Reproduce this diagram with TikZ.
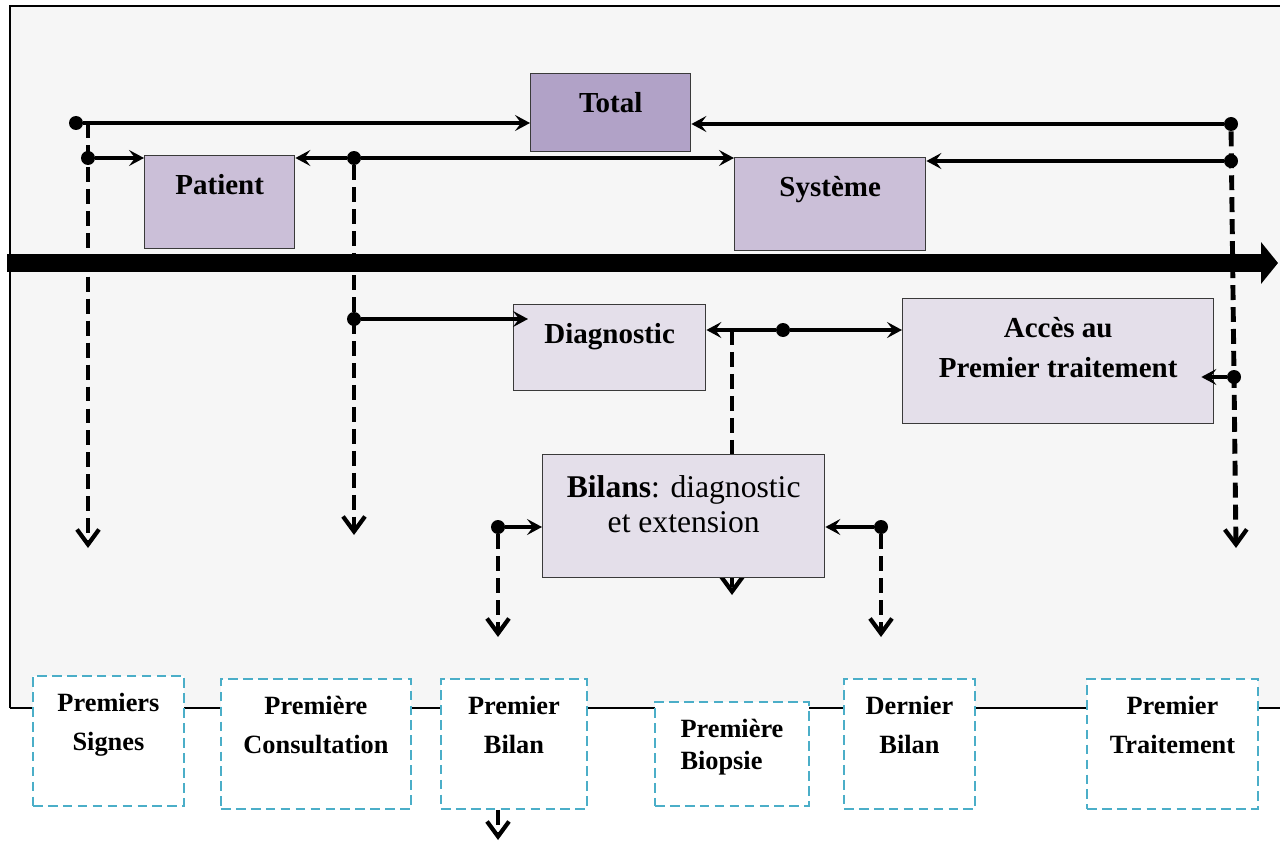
\documentclass[tikz,border=0pt]{standalone}
\usepackage{fontspec}
\setmainfont{Liberation Serif}
\usepackage{xcolor}
\usetikzlibrary{arrows.meta}
\definecolor{panel}{HTML}{F6F6F6}
\definecolor{lilacD}{HTML}{B1A2C7}
\definecolor{lilacM}{HTML}{CBBFD8}
\definecolor{lilacL}{HTML}{E4DFEA}
\definecolor{edge}{HTML}{3A3A3A}
\definecolor{milestone}{HTML}{4BAEC8}

\begin{document}
\begin{tikzpicture}[
    x=0.02cm, y=-0.02cm,
    phase/.style={rectangle, draw=edge, line width=0.8pt, anchor=north west, inner sep=0pt},
    total/.style={phase, fill=lilacD},
    actor/.style={phase, fill=lilacM},
    stage/.style={phase, fill=lilacL},
    event/.style={rectangle, draw=milestone, line width=1.1pt, dash pattern=on 5.5pt off 3pt, fill=white, anchor=north west, inner sep=0pt, minimum height=2.6cm},
    heading/.style={anchor=north, inner sep=0pt, yshift=-0.38cm, align=center, font=\fontsize{16.5}{22.8}\selectfont\bfseries},
    evtxt/.style={heading, yshift=0.02cm, font=\fontsize{15}{22}\selectfont\bfseries},
    dot/.style={circle, fill=black, inner sep=0pt, minimum size=0.28cm},
    link/.style={line width=2.8pt, -{Stealth[length=3mm, width=3.2mm, inset=1.2mm]}},
    drop/.style={line width=2.8pt, dash pattern=on 8.5pt off 4pt, -{Straight Barb[length=3mm, width=4.4mm, line width=2.4pt]}},
    timeline/.style={line width=0.36cm, -{Triangle[length=0.34cm, width=0.82cm]}}
]
    \useasboundingbox (0,0) rectangle (1280,841);
    \fill[panel] (10,6) rectangle (1280,708);
    \draw[line width=0.9pt] (10,708) -- (10,6) -- (1280,6);
    \draw[line width=0.9pt] (10,708) -- (1280,708);

    \coordinate (t0) at (7,263);
    \coordinate (t1) at (1278,263);
    \draw[timeline] (t0) -- (t1);

    \coordinate (jBil) at (732,330);
    \coordinate (fBil) at (732,595);
    \draw[drop] (jBil) -- (fBil);

    \node[total, minimum width=3.2cm, minimum height=1.56cm, label={[heading]north:Total}] (total) at (530,73) {};
    \node[actor, minimum width=3cm, minimum height=1.86cm, label={[heading]north:Patient}] (patient) at (144,155) {};
    \node[actor, minimum width=3.82cm, minimum height=1.86cm, label={[heading]north:Système}] (systeme) at (734,157) {};
    \node[stage, minimum width=3.84cm, minimum height=1.72cm, label={[heading]north:Diagnostic}] (diag) at (513,304) {};
    \node[stage, minimum width=6.22cm, minimum height=2.5cm, label={[heading]north:{Accès au\\Premier traitement}}] (acces) at (902,298) {};
    \node[stage, minimum width=5.64cm, minimum height=2.46cm, label={[heading, yshift=-0.04cm, font=\fontsize{18}{20}\selectfont]north:{\textbf{Bilans}: diagnostic\\et extension}}] (bilans) at (542,454) {};

    \node[event, minimum width=3.02cm, label={[evtxt]north:{Premiers\\Signes}}] (signes) at (32,675) {};
    \node[event, minimum width=3.8cm, label={[evtxt]north:{Première\\Consultation}}] (consult) at (220,678) {};
    \node[event, minimum width=2.92cm, label={[evtxt]north:{Premier\\Bilan}}] (bilan1) at (440,678) {};
    \node[event, minimum width=3.08cm, minimum height=2.08cm, label={[evtxt, align=left, font=\fontsize{15}{18}\selectfont\bfseries]north:{Première\\Biopsie}}] (biopsie) at (654,701) {};
    \node[event, minimum width=2.62cm, label={[evtxt]north:{Dernier\\Bilan}}] (bilan2) at (843,678) {};
    \node[event, minimum width=3.42cm, label={[evtxt]north:{Premier\\Traitement}}] (traitement) at (1086,678) {};

    \node[dot] (sTot) at (76,123) {};
    \node[dot] (sPat) at (88,158) {};
    \node[dot] (sCon) at (354,158) {};
    \node[dot] (sDia) at (354,319) {};
    \node[dot] (sAcc) at (783,330) {};
    \node[dot] (eTot) at (1231,124) {};
    \node[dot] (eSys) at (1231,161) {};
    \node[dot] (eAcc) at (1234,377) {};
    \node[dot] (sBi1) at (498,527) {};
    \node[dot] (sBi2) at (881,527) {};

    \draw[link] (sTot) -- (total.west |- sTot);
    \draw[link] (eTot) -- (total.east |- eTot);
    \draw[link] (sPat) -- (patient.west |- sPat);
    \draw[link] (sCon) -- (patient.east |- sCon);
    \draw[link] (sCon) -- (systeme.west |- sCon);
    \draw[link] (eSys) -- (systeme.east |- eSys);
    \draw[link] (sDia) -- ([xshift=0.3cm]diag.west |- sDia);
    \draw[link] (sAcc) -- (diag.east |- sAcc);
    \draw[link] (sAcc) -- (acces.west |- sAcc);
    \draw[link] (eAcc) -- ([xshift=-0.26cm]acces.east |- eAcc);
    \draw[link] (sBi1) -- (bilans.west |- sBi1);
    \draw[link] (sBi2) -- (bilans.east |- sBi2);

    \coordinate (fSig) at (88,548);
    \coordinate (fCon) at (354,535);
    \coordinate (fTrt) at (1236,548);
    \coordinate (fBi1) at (498,637);
    \coordinate (fBi2) at (881,637);
    \coordinate (fOut) at (498,840);
    \draw[drop] (sPat |- sTot) -- (fSig);
    \draw[drop] (sCon) -- (fCon);
    \draw[drop] (eTot) -- (fTrt);
    \draw[drop] (sBi1) -- (fBi1);
    \draw[drop] (sBi2) -- (fBi2);
    \draw[drop] (bilan1.south -| sBi1) -- (fOut);
\end{tikzpicture}
\end{document}
